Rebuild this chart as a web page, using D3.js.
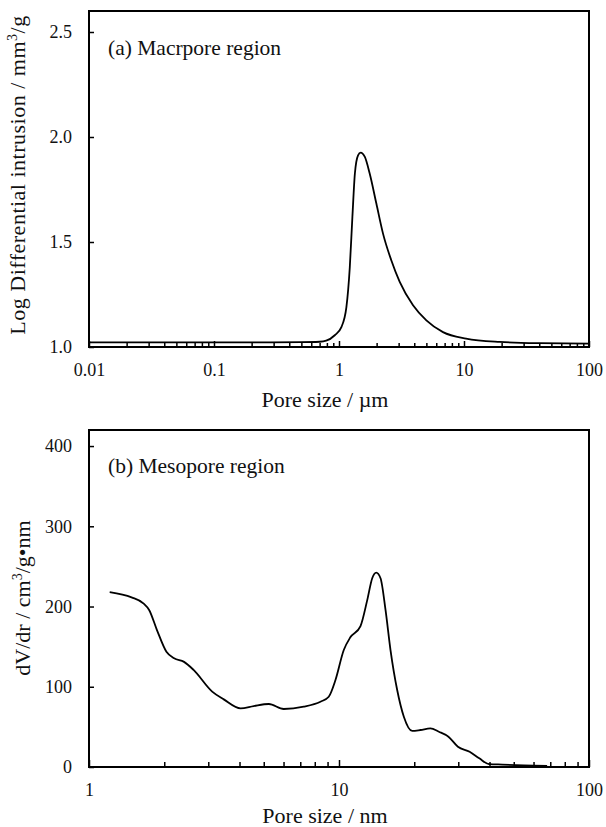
<!DOCTYPE html>
<html>
<head>
<meta charset="utf-8">
<script src="https://cdn.jsdelivr.net/npm/d3@7"></script>
<style>
  html, body { margin: 0; padding: 0; background: #fff; }
  svg { display: block; }
</style>
</head>
<body>
<div id="chart"></div>
<script>
// (a) macropore region: pore size (µm) vs log differential intrusion (mm3/g)
const macroSize = [0.01, 0.05, 0.2, 0.5, 0.7, 0.79, 0.925, 1.045, 1.146, 1.22, 1.28, 1.34, 1.42, 1.49,
  1.61, 1.76, 1.99, 2.25, 2.62, 3.06, 3.91, 5.0, 6.79, 10.4, 19.3, 40, 100];
const macroIntrusion = [1.022, 1.022, 1.022, 1.023, 1.025, 1.03, 1.056, 1.095, 1.19, 1.38, 1.62, 1.826, 1.913, 1.926,
  1.905, 1.826, 1.683, 1.54, 1.413, 1.31, 1.199, 1.127, 1.071, 1.04, 1.024, 1.018, 1.016];

// (b) mesopore region: pore size (nm) vs dV/dr
const mesoSize = [1.21, 1.48, 1.65, 1.74, 1.87, 2.04, 2.19, 2.4, 2.62, 3.11, 3.46, 4.04, 4.56, 5.24, 6.01,
  7.23, 8.43, 9.1, 9.68, 10.45, 11.1, 12.19, 12.97, 13.58, 14.09, 14.66, 15.35, 16.07, 17.09, 18.17,
  19.63, 21.18, 23.2, 25.1, 27.4, 29.9, 33.3, 36.4, 39.8, 45, 55, 68];
const mesoDvdr = [218, 211.5, 204, 195.7, 170.7, 143.7, 135.5, 131, 121, 94, 84.3, 73.1, 76, 78.5, 72.3,
  75.2, 81.4, 87.6, 108.4, 145.8, 161.6, 175.7, 208, 235.2, 242.2, 235.2, 195.7, 145.8, 96, 62.7,
  44.9, 46.1, 48.2, 44, 37.8, 25.3, 19, 10.8, 3.7, 3, 2, 1.5];

const macroXTicks = [0.01, 0.1, 1, 10, 100];
const macroYTicks = [1.0, 1.5, 2.0, 2.5];
const mesoXTicks = [1, 10, 100];
const mesoYTicks = [0, 100, 200, 300, 400];

const W = 606, H = 827;
const FONT = "'Liberation Serif', 'Times New Roman', serif";

const svg = d3.select("#chart").append("svg")
  .attr("width", W)
  .attr("height", H)
  .style("background", "#fff");

// log minor ticks inside a domain
function logMinor(domain) {
  const out = [];
  for (let e = Math.round(Math.log10(domain[0])); e < Math.round(Math.log10(domain[1])); e++) {
    for (let k = 2; k <= 9; k++) out.push(k * Math.pow(10, e));
  }
  return out;
}

function drawPanel(opt) {
  const { left, right, top, bottom } = opt;
  const g = svg.append("g");

  const x = d3.scaleLog().domain(opt.xDomain).range([left, right]);
  const y = d3.scaleLinear().domain(opt.yDomain).range([bottom, top]);

  // minor x ticks (inside)
  g.append("g")
    .attr("transform", `translate(0,${bottom})`)
    .call(d3.axisBottom(x).tickValues(logMinor(opt.xDomain)).tickSize(-opt.minorLen).tickFormat(""))
    .call(a => a.select(".domain").remove())
    .call(a => a.selectAll("line").attr("stroke", "#000").attr("stroke-width", 1.5));

  // major x ticks with labels
  g.append("g")
    .attr("transform", `translate(0,${bottom})`)
    .call(d3.axisBottom(x).tickValues(opt.xTicks).tickSizeInner(-opt.majorLen).tickSizeOuter(0)
      .tickPadding(opt.xPad).tickFormat(opt.xFormat))
    .call(a => a.select(".domain").remove())
    .call(a => a.selectAll("line").attr("stroke", "#000").attr("stroke-width", 1.5))
    .call(a => a.selectAll("text").attr("font-family", FONT).attr("font-size", 18).attr("fill", "#111"));

  // y ticks (inside) with labels
  g.append("g")
    .attr("transform", `translate(${left},0)`)
    .call(d3.axisLeft(y).tickValues(opt.yTicks).tickSizeInner(-5).tickSizeOuter(0)
      .tickPadding(17).tickFormat(opt.yFormat))
    .call(a => a.select(".domain").remove())
    .call(a => a.selectAll("line").attr("stroke", "#000").attr("stroke-width", 1.5))
    .call(a => a.selectAll("text").attr("font-family", FONT).attr("font-size", 18).attr("fill", "#111"));

  // data line
  const line = d3.line()
    .x((d, i) => x(opt.xs[i]))
    .y(d => y(d))
    .curve(d3.curveMonotoneX);

  g.append("path")
    .datum(opt.ys)
    .attr("fill", "none")
    .attr("stroke", "#000")
    .attr("stroke-width", 1.8)
    .attr("d", line);

  // frame
  g.append("rect")
    .attr("x", left).attr("y", top)
    .attr("width", right - left).attr("height", bottom - top)
    .attr("fill", "none").attr("stroke", "#000").attr("stroke-width", 2);

  // panel annotation
  g.append("text")
    .attr("x", left + 19).attr("y", opt.noteY)
    .attr("font-family", FONT).attr("font-size", 21.5).attr("fill", "#111")
    .text(opt.note);

  // x title
  g.append("text")
    .attr("x", opt.xTitleX).attr("y", opt.xTitleY)
    .attr("text-anchor", "middle")
    .attr("font-family", FONT).attr("font-size", 22).attr("fill", "#111")
    .text(opt.xTitle);

  // y title with superscript
  const yt = g.append("text")
    .attr("transform", `translate(${opt.yTitleX},${opt.yTitleCy}) rotate(-90)`)
    .attr("text-anchor", "middle")
    .attr("font-family", FONT).attr("font-size", 22).attr("fill", "#111")
    .attr("letter-spacing", opt.yTitleSpacing);
  opt.yTitle.forEach(part => {
    const t = yt.append("tspan").text(part.t);
    if (part.sup) t.attr("font-size", 14).attr("dy", -8);
    else if (part.after) t.attr("dy", 8);
  });
}

drawPanel({
  left: 89, right: 589, top: 11, bottom: 347,
  xDomain: [0.01, 100], yDomain: [1, 2.6],
  xTicks: macroXTicks, yTicks: macroYTicks,
  xFormat: d => String(d), yFormat: d3.format(".1f"),
  minorLen: 4, majorLen: 6, xPad: 16,
  xs: macroSize, ys: macroIntrusion,
  note: "(a) Macrpore region", noteY: 55,
  xTitle: "Pore size / µm", xTitleX: 325, xTitleY: 407,
  yTitleX: 25, yTitleCy: 175, yTitleSpacing: 0.5,
  yTitle: [{ t: "Log Differential intrusion / mm" }, { t: "3", sup: true }, { t: "/g", after: true }]
});

drawPanel({
  left: 89, right: 589, top: 430, bottom: 767,
  xDomain: [1, 100], yDomain: [0, 420],
  xTicks: mesoXTicks, yTicks: mesoYTicks,
  xFormat: d => String(d), yFormat: d3.format("d"),
  minorLen: 5, majorLen: 7, xPad: 16,
  xs: mesoSize, ys: mesoDvdr,
  note: "(b) Mesopore region", noteY: 473,
  xTitle: "Pore size / nm", xTitleX: 325, xTitleY: 823,
  yTitleX: 30, yTitleCy: 598, yTitleSpacing: 0,
  yTitle: [{ t: "dV/dr / cm" }, { t: "3", sup: true }, { t: "/g•nm", after: true }]
});
</script>
</body>
</html>
